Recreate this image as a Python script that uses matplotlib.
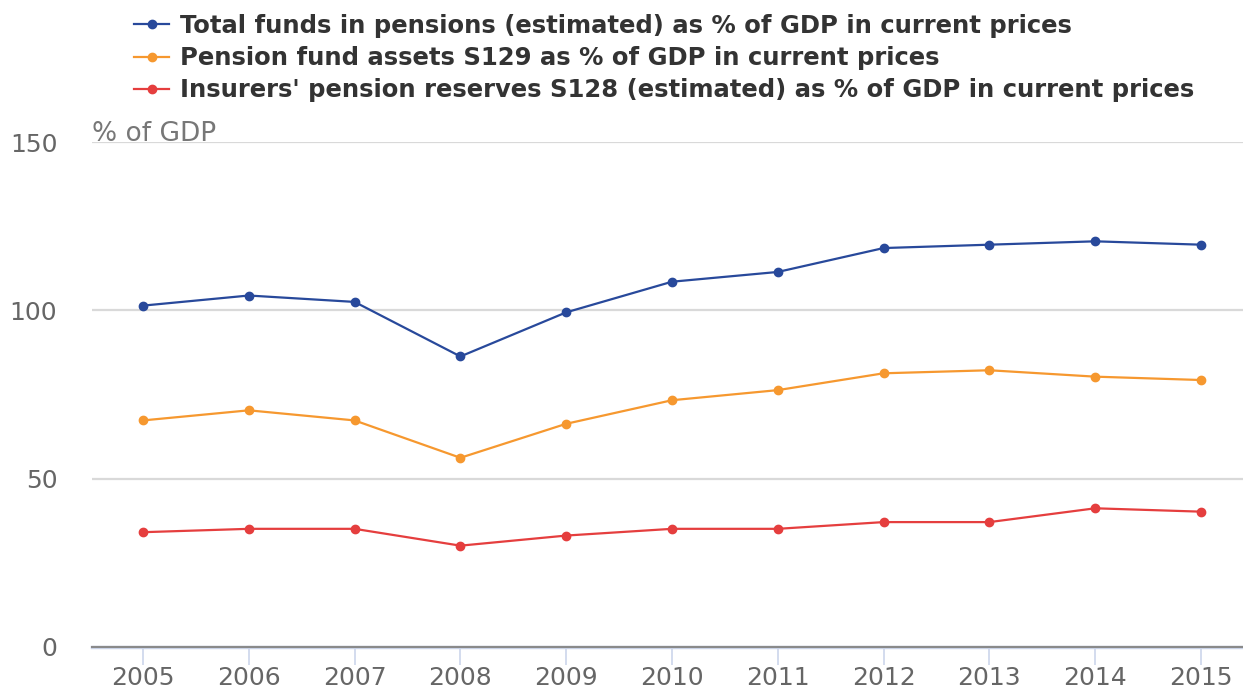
import matplotlib
matplotlib.use("Agg")
import matplotlib.pyplot as plt

plt.rcParams["font.family"] = ["DejaVu Sans"]

# Pensions as % of GDP, 2005-2015
years = ["2005", "2006", "2007", "2008", "2009", "2010",
         "2011", "2012", "2013", "2014", "2015"]
total_funds = [101.4, 104.4, 102.5, 86.3, 99.4, 108.5, 111.4, 118.5, 119.5, 120.5, 119.5]
pension_fund_assets = [67.3, 70.3, 67.3, 56.2, 66.3, 73.3, 76.3, 81.3, 82.2, 80.3, 79.3]
insurers_reserves = [34.1, 35.1, 35.1, 30.1, 33.1, 35.1, 35.1, 37.1, 37.1, 41.2, 40.2]

series_labels = [
    "Total funds in pensions (estimated) as % of GDP in current prices",
    "Pension fund assets S129 as % of GDP in current prices",
    "Insurers' pension reserves S128 (estimated) as % of GDP in current prices",
]
colors = ["#28499b", "#f6982f", "#e53e3e"]

W, H = 1243, 689
fig = plt.figure(figsize=(W / 100, H / 100), dpi=100)
ax = fig.add_axes([92 / W, 42 / H, (W - 92) / W, (647 - 142) / H])

x = list(range(len(years)))
for vals, lab, col in zip([total_funds, pension_fund_assets, insurers_reserves],
                          series_labels, colors):
    ax.plot(x, vals, color=col, lw=1.6, marker="o", ms=6, label=lab,
            solid_joinstyle="round", zorder=3)

ax.set_ylim(0, 150)
ax.set_xlim(-0.482, 10.397)
ax.set_yticks([0, 50, 100, 150])
ax.set_xticks(x)
ax.set_xticklabels(years)

# gridlines
ax.grid(axis="y", color="#d9d9d9", lw=1.6, zorder=0)
ax.set_axisbelow(True)
for s in ["top", "right", "left"]:
    ax.spines[s].set_visible(False)
ax.spines["bottom"].set_color("#ccd6eb")
ax.spines["bottom"].set_linewidth(2.5)
ax.spines["bottom"].set_zorder(1)
# zero line sits on top of the axis line
ax.axhline(0, color="#8a8a8a", lw=1.5, zorder=2.5, clip_on=False)

ax.tick_params(axis="y", length=0, pad=25, labelsize=18, labelcolor="#666666")
ax.tick_params(axis="x", length=13, width=1.2, color="#ccd6eb", pad=1,
               labelsize=18, labelcolor="#666666")

fig.text(92 / W, 1 - 141 / H, "% of GDP", fontsize=19, color="#777777",
         ha="left", va="baseline")

leg = ax.legend(loc="upper left", bbox_to_anchor=(134 / W, 1 - 14 / H),
                bbox_transform=fig.transFigure, frameon=False,
                borderpad=0, borderaxespad=0, handlelength=1.45,
                handletextpad=0.45, labelspacing=0.33,
                prop={"size": 17.5, "weight": "bold"})
for t in leg.get_texts():
    t.set_color("#333333")

plt.savefig("out.png", dpi=100)
